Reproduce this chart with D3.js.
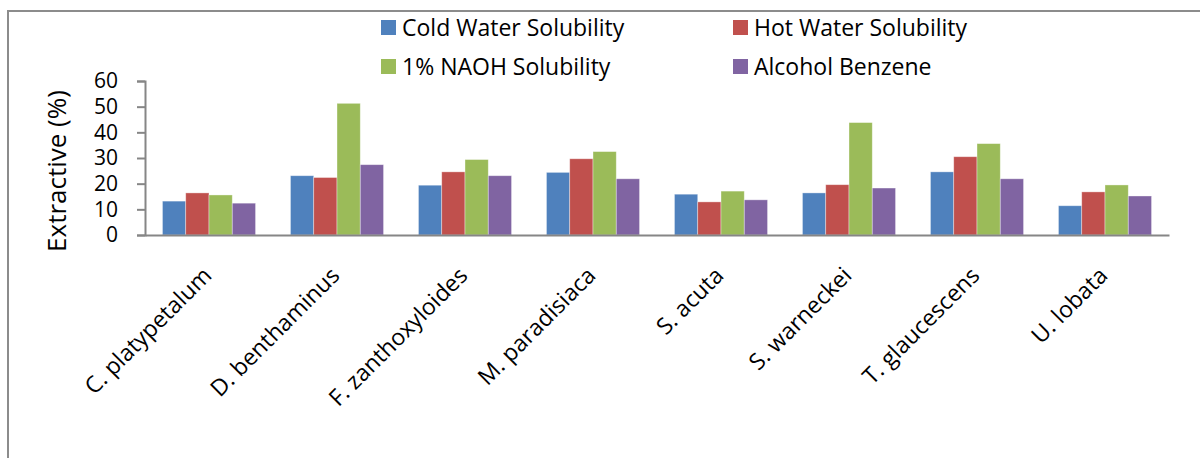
<!DOCTYPE html>
<html>
<head>
<meta charset="utf-8">
<script src="https://cdn.jsdelivr.net/npm/d3@7"></script>
<style>
  html, body { margin: 0; padding: 0; background: #fff; }
  svg { display: block; }
</style>
</head>
<body>
<div id="chart"></div>
<script>
/**
 * Extractive content by species — grouped bar chart, 4 solubility tests.
 */

const SPECIES = [
  'C. platypetalum', 'D. benthaminus', 'F. zanthoxyloides', 'M. paradisiaca',
  'S. acuta', 'S. warneckei', 'T. glaucescens', 'U. lobata',
];
const SERIES = ['Cold Water Solubility', 'Hot Water Solubility', '1% NAOH Solubility', 'Alcohol Benzene'];

const COLD_WATER = [13.2, 23.1, 19.4, 24.4, 15.9, 16.4, 24.6, 11.4];
const HOT_WATER  = [16.4, 22.4, 24.6, 29.7, 12.9, 19.6, 30.5, 16.8];
const NAOH_1PCT  = [15.6, 51.3, 29.4, 32.5, 17.1, 43.8, 35.6, 19.5];
const ALC_BENZ   = [12.4, 27.4, 23.1, 21.9, 13.7, 18.3, 21.9, 15.2];

const Y_TICKS = [0, 10, 20, 30, 40, 50, 60];
const COLORS = ['#4f81bd', '#c0504d', '#9bbb59', '#8064a2'];

const W = 1200, H = 458;
const FONT = '"Open Sans", "Noto Sans", sans-serif';

const values = [COLD_WATER, HOT_WATER, NAOH_1PCT, ALC_BENZ];
const rows = SPECIES.map((name, i) => ({ name, vals: values.map(s => s[i]) }));

const svg = d3.select('#chart').append('svg')
  .attr('width', W).attr('height', H);

// Chart frame (top + left edges visible)
svg.append('path')
  .attr('d', `M8,${H} V11 H${W}`)
  .attr('fill', 'none')
  .attr('stroke', '#8c8c8c')
  .attr('stroke-width', 2);

/* ------------------------------------------------------------------ */
/*  Scales                                                             */
/* ------------------------------------------------------------------ */

const plot = { left: 145, right: 1169, top: 81, bottom: 235 };

const x0 = d3.scaleBand()
  .domain(SPECIES)
  .range([plot.left, plot.right])
  .padding(0);

const x1 = d3.scaleBand()
  .domain(d3.range(SERIES.length))
  .range([0, x0.bandwidth()])
  .paddingInner(0)
  .paddingOuter(0.75);

const y = d3.scaleLinear().domain([0, 60]).range([plot.bottom, plot.top]);

/* ------------------------------------------------------------------ */
/*  Bars                                                               */
/* ------------------------------------------------------------------ */

const groups = svg.append('g').selectAll('g')
  .data(rows)
  .enter().append('g')
  .attr('transform', d => `translate(${x0(d.name)},0)`);

groups.selectAll('rect')
  .data(d => d.vals.map((v, k) => ({ v, k })))
  .enter().append('rect')
  .attr('x', d => x1(d.k))
  .attr('y', d => y(d.v))
  .attr('width', x1.bandwidth())
  .attr('height', d => y(0) - y(d.v))
  .attr('fill', d => COLORS[d.k])
  .attr('stroke', 'rgba(255,255,255,0.45)')
  .attr('stroke-width', 0.8);

/* ------------------------------------------------------------------ */
/*  Axes                                                               */
/* ------------------------------------------------------------------ */

const yAxis = svg.append('g')
  .attr('transform', `translate(${plot.left},0)`)
  .call(d3.axisLeft(y).tickValues(Y_TICKS).tickSize(8).tickPadding(19));
yAxis.select('.domain').attr('stroke', '#868686').attr('stroke-width', 2);
yAxis.selectAll('.tick line').attr('stroke', '#868686').attr('stroke-width', 2);
yAxis.selectAll('.tick text')
  .attr('font-family', FONT).attr('font-size', 21).attr('fill', '#000');

const xAxis = svg.append('g')
  .attr('transform', `translate(0,${plot.bottom})`)
  .call(d3.axisBottom(x0).tickSize(0).tickFormat(''));
xAxis.select('.domain').attr('stroke', '#868686').attr('stroke-width', 2);

// Rotated category labels
SPECIES.forEach(name => {
  const cx = x0(name) + x0.bandwidth() / 2 + 4;
  svg.append('text')
    .attr('transform', `translate(${cx},277) rotate(-45)`)
    .attr('text-anchor', 'end')
    .attr('font-family', FONT).attr('font-size', 23)
    .attr('fill', '#000')
    .text(name);
});

// Y-axis title
svg.append('text')
  .attr('transform', `translate(66,${(plot.top + plot.bottom) / 2 + 13}) rotate(-90)`)
  .attr('text-anchor', 'middle')
  .attr('font-family', FONT).attr('font-size', 26)
  .attr('fill', '#000')
  .text('Extractive (%)');

/* ------------------------------------------------------------------ */
/*  Legend (2 x 2)                                                     */
/* ------------------------------------------------------------------ */

const legendCols = [381, 733];
const legendRows = [20, 59];

SERIES.forEach((s, k) => {
  const lx = legendCols[k % 2];
  const ly = legendRows[Math.floor(k / 2)];
  svg.append('rect')
    .attr('x', lx).attr('y', ly)
    .attr('width', 15).attr('height', 15)
    .attr('fill', COLORS[k]);
  svg.append('text')
    .attr('x', lx + 21).attr('y', ly + 16)
    .attr('font-family', FONT).attr('font-size', 23)
    .attr('fill', '#000')
    .text(s);
});
</script>
</body>
</html>
